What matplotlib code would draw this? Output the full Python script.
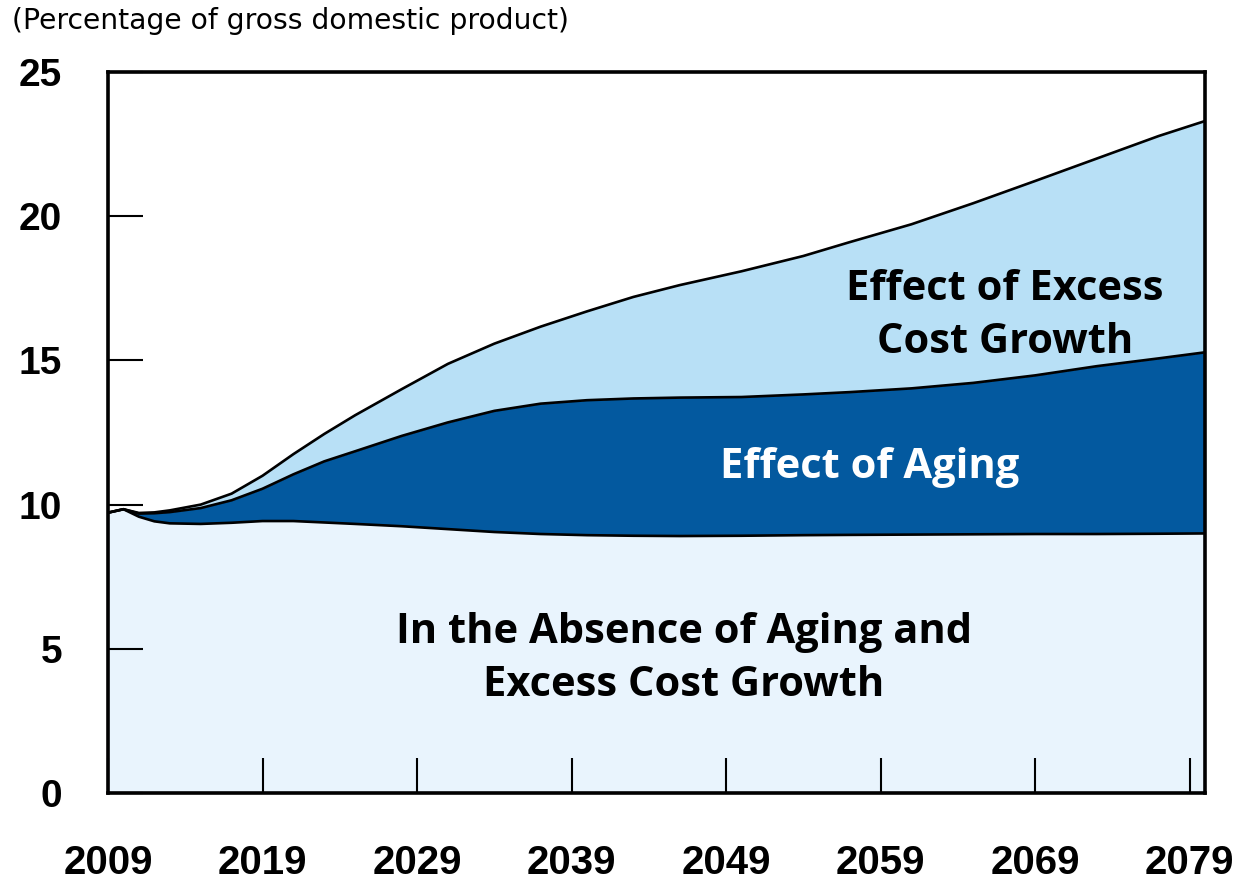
import matplotlib
matplotlib.use("Agg")
import matplotlib.pyplot as plt

years = [2009, 2010, 2011, 2012, 2013, 2015, 2017, 2019, 2021, 2023, 2025, 2028,
         2031, 2034, 2037, 2040, 2043, 2046, 2050, 2054, 2057, 2061, 2065, 2069,
         2073, 2077, 2080]

# Spending in the absence of aging and excess cost growth
base = [9.72, 9.84, 9.58, 9.42, 9.35, 9.33, 9.37, 9.43, 9.43, 9.38, 9.33, 9.25,
        9.15, 9.05, 8.98, 8.94, 8.92, 8.91, 8.92, 8.94, 8.95, 8.96, 8.97, 8.98,
        8.98, 8.99, 9.00]

# Cumulative: plus effect of aging
with_aging = [9.72, 9.84, 9.69, 9.70, 9.74, 9.88, 10.15, 10.55, 11.05, 11.5, 11.85,
              12.38, 12.85, 13.25, 13.50, 13.62, 13.68, 13.71, 13.73, 13.82, 13.90,
              14.03, 14.22, 14.48, 14.80, 15.07, 15.28]

# Cumulative: plus effect of excess cost growth
total = [9.72, 9.84, 9.71, 9.73, 9.80, 10.0, 10.38, 11.0, 11.75, 12.45, 13.1, 14.0,
         14.88, 15.58, 16.17, 16.70, 17.2, 17.61, 18.09, 18.62, 19.1, 19.72, 20.45,
         21.22, 22.0, 22.78, 23.3]

x_ticks = [2009, 2019, 2029, 2039, 2049, 2059, 2069, 2079]
y_ticks = [0, 5, 10, 15, 20, 25]

c_base = "#E9F4FD"
c_aging = "#03599F"
c_excess = "#B8E0F6"

fig = plt.figure(figsize=(12.42, 8.84), dpi=100)
ax = fig.add_axes([108 / 1242, 1 - 793 / 884, (1205 - 108) / 1242, (793 - 72) / 884])

ax.fill_between(years, 0, base, color=c_base, lw=0, zorder=1)
ax.fill_between(years, base, with_aging, color=c_aging, lw=0, zorder=1)
ax.fill_between(years, with_aging, total, color=c_excess, lw=0, zorder=1)
for s in (base, with_aging, total):
    ax.plot(years, s, color="black", lw=1.9, zorder=3, solid_joinstyle="round")

ax.set_xlim(2009, 2080)
ax.set_ylim(0, 25)
ax.set_axisbelow(False)

ax.set_xticks(x_ticks)
ax.set_yticks(y_ticks)
ax.tick_params(axis="both", direction="in", length=25, width=1.5, color="black")
ax.tick_params(axis="x", pad=37)
ax.tick_params(axis="y", pad=33)
for lab in ax.get_xticklabels():
    lab.set_fontfamily("Liberation Sans")
    lab.set_fontweight("bold")
    lab.set_fontsize(29)
for lab in ax.get_yticklabels():
    lab.set_fontfamily("Liberation Sans")
    lab.set_fontweight("bold")
    lab.set_fontsize(28)

for sp in ax.spines.values():
    sp.set_linewidth(2.6)
    sp.set_color("black")

fig.text(12 / 1242, 1 - 21 / 884, "(Percentage of gross domestic product)",
         family="DejaVu Sans", fontsize=20.3, ha="left", va="center")

ax.text(2067.06, 16.55, "Effect of Excess\nCost Growth", family="Open Sans",
        fontweight="bold", fontsize=30, ha="center", va="center",
        linespacing=1.38, color="black", zorder=4)
ax.text(2058.3, 11.30, "Effect of Aging", family="Open Sans", fontweight="bold",
        fontsize=30, ha="center", va="center", color="white", zorder=4)
ax.text(2046.27, 4.65, "In the Absence of Aging and\nExcess Cost Growth",
        family="Open Sans", fontweight="bold", fontsize=30, ha="center",
        va="center", linespacing=1.38, color="black", zorder=4)

fig.savefig("out.png", dpi=100)
